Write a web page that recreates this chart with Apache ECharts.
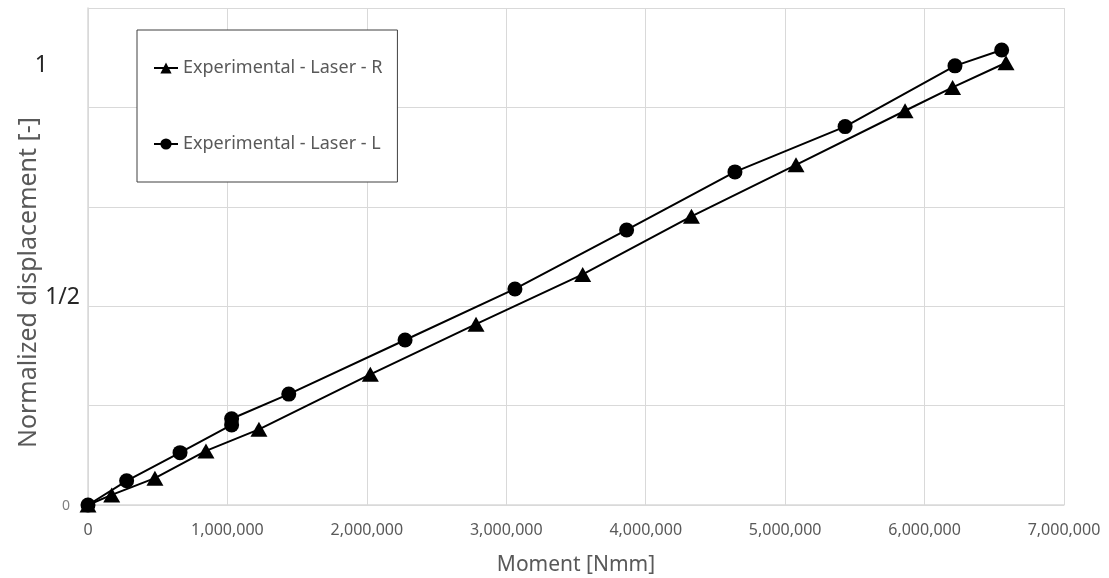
<!DOCTYPE html>
<html>
<head>
<meta charset="utf-8">
<script src="https://cdn.jsdelivr.net/npm/echarts@6/dist/echarts.min.js"></script>
<style>
  html, body { margin: 0; padding: 0; background: #ffffff; }
  #chart { width: 1109px; height: 578px; }
</style>
</head>
<body>
<div id="chart"></div>
<script>
// Laser R: moment [Nmm] and normalized displacement [-]
const momentR = [0, 170000, 480000, 846000, 1226000, 2025000, 2783000, 3548000, 4328000, 5078000, 5860000, 6201000, 6584000];
const dispR   = [0, 0.023, 0.061, 0.123, 0.172, 0.297, 0.411, 0.524, 0.656, 0.773, 0.896, 0.949, 1.005];

// Laser L: moment [Nmm] and normalized displacement [-]
const momentL = [0, 277000, 660000, 1030000, 1030000, 1440000, 2274000, 3062000, 3863000, 4640000, 5430000, 6218000, 6553000];
const dispL   = [0, 0.055, 0.119, 0.182, 0.196, 0.252, 0.375, 0.491, 0.625, 0.757, 0.860, 0.998, 1.034];

// Axis settings
const xMax = 7000000;
const xStep = 1000000;
const yStep = 0.2259;
const yMax = 5 * yStep;
const yLabelValues = [0, 0.5, 1];
const yLabelTexts = ['0', '1/2', '1'];

const seriesNames = ['Experimental - Laser - R', 'Experimental - Laser - L'];

const FONT = '"Noto Sans", "Open Sans", sans-serif';
const GRID = '#d9d9d9';
const TEXT = '#595959';

function pairs(xs, ys) {
  return xs.map((x, i) => [x, ys[i]]);
}

const chart = echarts.init(document.getElementById('chart'), null, { renderer: 'canvas' });

chart.setOption({
  animation: false,
  backgroundColor: '#ffffff',
  textStyle: { fontFamily: FONT },
  grid: { left: 88, right: 45, top: 8, bottom: 73, containLabel: false, outerBoundsMode: 'none' },
  legend: {
    orient: 'vertical',
    left: 137,
    top: 30,
    padding: [28, 15, 28, 16],
    itemGap: 56,
    itemWidth: 24,
    itemHeight: 14,
    borderColor: '#404040',
    borderWidth: 1,
    backgroundColor: '#ffffff',
    textStyle: { color: TEXT, fontSize: 18, fontFamily: FONT, lineHeight: 20 },
    data: seriesNames
  },
  xAxis: {
    type: 'value',
    min: 0,
    max: xMax,
    interval: xStep,
    name: 'Moment [Nmm]',
    nameLocation: 'middle',
    nameGap: 50,
    nameMoveOverlap: false,
    nameTextStyle: { color: TEXT, fontSize: 21, fontFamily: FONT },
    axisLine: { show: true, lineStyle: { color: GRID, width: 1.5 } },
    axisTick: { show: false },
    splitLine: { show: true, lineStyle: { color: GRID, width: 1 } },
    axisLabel: {
      color: TEXT,
      fontSize: 16,
      fontFamily: FONT,
      margin: 17,
      formatter: v => v.toLocaleString('en-US')
    }
  },
  yAxis: {
    type: 'value',
    min: 0,
    max: yMax,
    interval: yStep,
    name: 'Normalized displacement [-]',
    nameLocation: 'middle',
    nameGap: 47,
    nameMoveOverlap: false,
    nameTextStyle: { color: TEXT, fontSize: 25, fontFamily: FONT, padding: [0, 52, 0, 0] },
    axisLine: { show: true, lineStyle: { color: GRID, width: 1.5 } },
    axisTick: { show: false },
    splitLine: { show: true, lineStyle: { color: GRID, width: 1 } },
    axisLabel: {
      customValues: yLabelValues,
      margin: 8,
      formatter: v => {
        const i = yLabelValues.indexOf(v);
        const t = i >= 0 ? yLabelTexts[i] : '';
        if (t === '0') return '{zero|0}';
        if (t === '1') return '{one|1}';
        if (t === '1/2') return '{half|1/2}';
        return '';
      },
      rich: {
        zero: { color: '#7f7f7f', fontSize: 14, fontFamily: FONT, padding: [2, 10, 0, 0] },
        one: { color: '#262626', fontSize: 23, fontFamily: FONT, padding: [0, 32, 0, 0] },
        half: { color: '#262626', fontSize: 23, fontFamily: FONT, padding: [24, 0, 0, 0] }
      }
    }
  },
  series: [
    {
      name: seriesNames[0],
      type: 'line',
      data: pairs(momentR, dispR),
      symbol: 'triangle',
      symbolSize: [17, 15],
      showAllSymbol: true,
      lineStyle: { color: '#000000', width: 2 },
      itemStyle: { color: '#000000' }
    },
    {
      name: seriesNames[1],
      type: 'line',
      data: pairs(momentL, dispL),
      symbol: 'circle',
      symbolSize: 15,
      showAllSymbol: true,
      lineStyle: { color: '#000000', width: 2 },
      itemStyle: { color: '#000000' }
    }
  ]
});
</script>
</body>
</html>
